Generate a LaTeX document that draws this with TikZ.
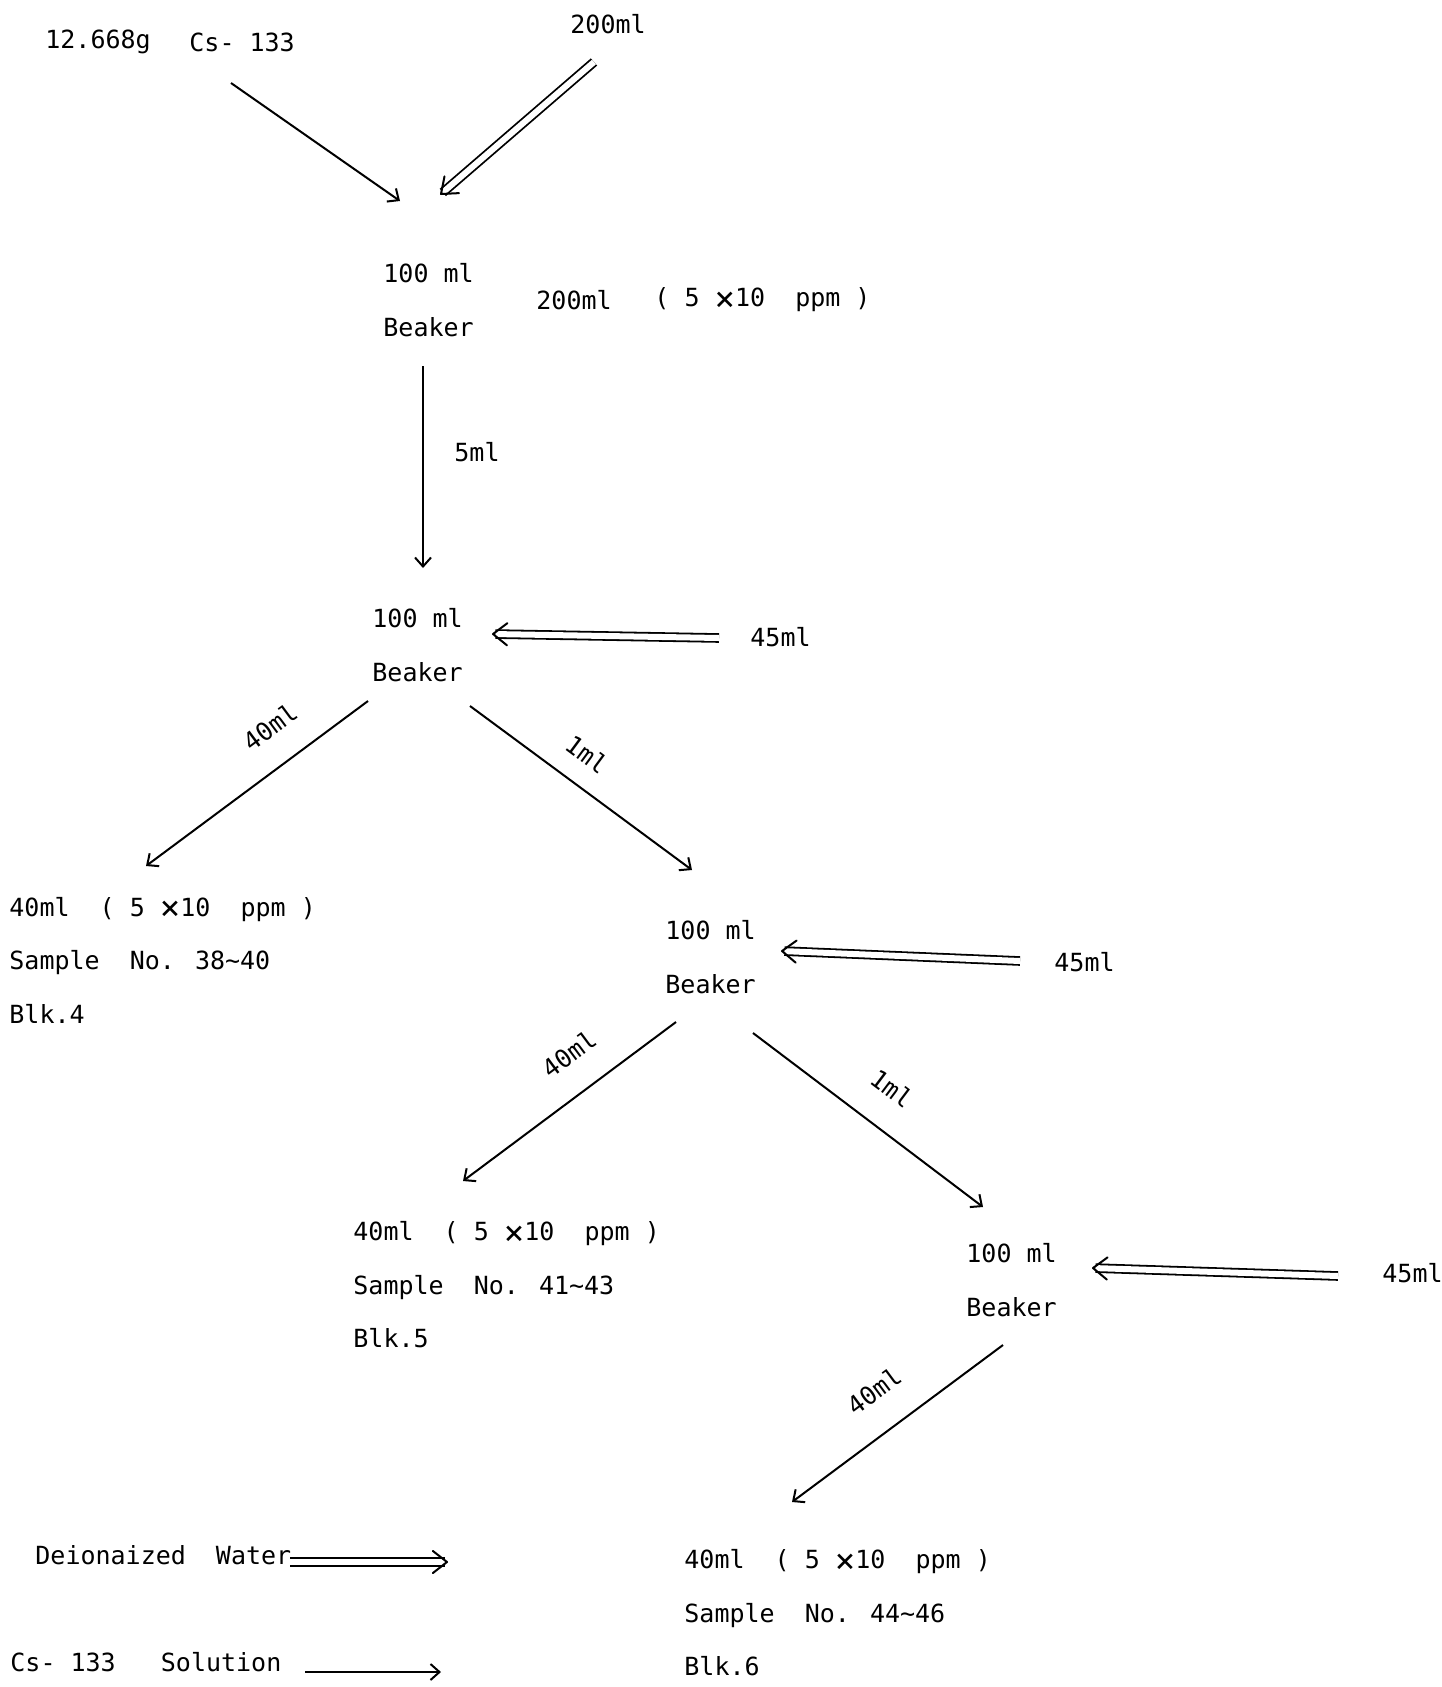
\documentclass[tikz,border=0pt]{standalone}
\usepackage{fontspec}
\setmainfont{DejaVu Sans Mono}
\usetikzlibrary{arrows.meta,calc}
\newcommand\bigtimes{\raisebox{-1.6pt}{\fontsize{17}{17}\selectfont ×}}
\newcommand\dblarr[2]{%
  \draw[dbl,shorten >=1.2pt] (#1) -- (#2);
  \draw[line width=1pt,line cap=round,line join=round] ($(#2)!9pt!38:(#1)$) -- (#2) -- ($(#2)!9pt!-38:(#1)$);}
\begin{document}
\begin{tikzpicture}[x=0.5pt,y=-0.5pt,
  txt/.style={anchor=west,inner sep=0pt,align=left,font=\fontsize{12.5}{26.75}\selectfont},
  lbl/.style={inner sep=0pt,font=\fontsize{12.5}{15}\selectfont},
  arr/.style={line width=1pt,-{Straight Barb[length=4.5pt,width=8pt]}},
  dbl/.style={double,double distance=3pt,line width=0.9pt}]
\useasboundingbox (0,0) rectangle (1441,1687);
% texts
\node[txt] (mass) at (45,42) {12.668g};
\node[txt] (cs) at (189,42) {Cs- 133};
\node[txt] (w1) at (570,24) {200ml};
\node[txt] (bk1) at (383,300) {100 ml\\Beaker};
\node[txt] (vol1) at (536,300) {200ml};
\node[txt] (conc1) at (654,300) {( 5 \bigtimes10\ \ ppm )};
\node[txt] (v5) at (454,452) {5ml};
\node[txt] (bk2) at (372,645) {100 ml\\Beaker};
\node[txt] (w2) at (750,637) {45ml};
\node[txt] (s1) at (9,960) {40ml\ \ ( 5 \bigtimes10\ \ ppm )\\Sample\ \ No. 38∼40\\Blk.4};
\node[txt] (bk3) at (665,957) {100 ml\\Beaker};
\node[txt] (w3) at (1054,962) {45ml};
\node[txt] (s2) at (353,1285) {40ml\ \ ( 5 \bigtimes10\ \ ppm )\\Sample\ \ No. 41∼43\\Blk.5};
\node[txt] (bk4) at (966,1280) {100 ml\\Beaker};
\node[txt] (w4) at (1382,1273) {45ml};
\node[txt] (s3) at (684,1613) {40ml\ \ ( 5 \bigtimes10\ \ ppm )\\Sample\ \ No. 44∼46\\Blk.6};
\node[txt] (legw) at (35,1555) {Deionaized\ \ Water};
\node[txt] (legc) at (10,1662) {Cs- 133\ \ \ Solution};
% rotated labels
\node[lbl,rotate=36.6] (l1) at (270,727) {40ml};
\node[lbl,rotate=-36.5] (l2) at (587,754) {1ml};
\node[lbl,rotate=36.7] (l3) at (569,1054) {40ml};
\node[lbl,rotate=-37] (l4) at (892,1088) {1ml};
\node[lbl,rotate=36.6] (l5) at (874,1391) {40ml};
% connector end points
\coordinate (a1s) at (231,83);   \coordinate (a1e) at (400,201);
\coordinate (a2s) at (594,62);   \coordinate (a2e) at (441,194);
\coordinate (a3s) at (423,366);  \coordinate (a3e) at (423,568);
\coordinate (a4s) at (719,638);  \coordinate (a4e) at (493,634);
\coordinate (a5s) at (368,701);  \coordinate (a5e) at (146,866);
\coordinate (a6s) at (470,706);  \coordinate (a6e) at (692,870);
\coordinate (a7s) at (1020,961); \coordinate (a7e) at (782,951);
\coordinate (a8s) at (676,1022); \coordinate (a8e) at (463,1181);
\coordinate (a9s) at (753,1033); \coordinate (a9e) at (983,1207);
\coordinate (a10s) at (1338,1276); \coordinate (a10e) at (1093,1268);
\coordinate (a11s) at (1003,1345); \coordinate (a11e) at (792,1502);
\coordinate (lw1) at (290,1562); \coordinate (lw2) at (447,1562);
\coordinate (lc1) at (305,1672); \coordinate (lc2) at (441,1672);
% connectors
\draw[arr] (a1s) -- (a1e);
\dblarr{a2s}{a2e}
\draw[arr] (a3s) -- (a3e);
\dblarr{a4s}{a4e}
\draw[arr] (a5s) -- (a5e);
\draw[arr] (a6s) -- (a6e);
\dblarr{a7s}{a7e}
\draw[arr] (a8s) -- (a8e);
\draw[arr] (a9s) -- (a9e);
\dblarr{a10s}{a10e}
\draw[arr] (a11s) -- (a11e);
\dblarr{lw1}{lw2}
\draw[arr] (lc1) -- (lc2);
\end{tikzpicture}
\end{document}
